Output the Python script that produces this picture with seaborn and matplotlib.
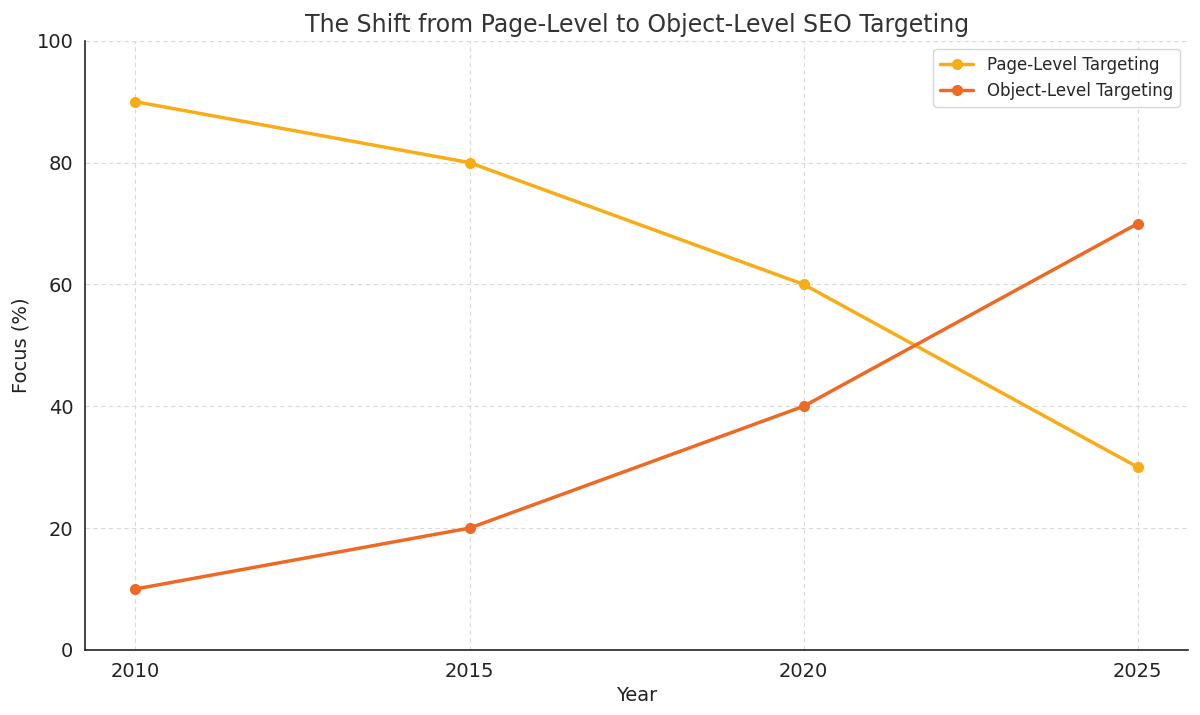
import matplotlib
matplotlib.use("Agg")
import matplotlib.pyplot as plt
import seaborn as sns
import pandas as pd

years = [2010, 2015, 2020, 2025]
page_level = [90, 80, 60, 30]
object_level = [10, 20, 40, 70]
series_names = ["Page-Level Targeting", "Object-Level Targeting"]
colors = ["#f8ac15", "#ee6a24"]

df = pd.DataFrame({
    "Year": years * 2,
    "Focus": page_level + object_level,
    "Series": [series_names[0]] * len(years) + [series_names[1]] * len(years),
})

sns.set_style("white")
plt.rcParams['font.family'] = ['DejaVu Sans']

fig, ax = plt.subplots(figsize=(12, 7.15), dpi=100)
sns.lineplot(data=df, x="Year", y="Focus", hue="Series", palette=colors,
             marker="o", markersize=8, markeredgewidth=0, linewidth=2.5, ax=ax)

ax.set_ylim(0, 100)
ax.set_xticks(years)
ax.set_xticklabels([str(y) for y in years])
ax.tick_params(axis="both", labelsize=14, length=5, width=1, colors="#222222", direction="out")
ax.grid(True, linestyle=(0, (4, 3)), color="#d9d9d9", linewidth=0.8)
sns.despine(ax=ax)
for s in ["left", "bottom"]:
    ax.spines[s].set_color("#222222")
    ax.spines[s].set_linewidth(1.2)

ax.set_title("The Shift from Page-Level to Object-Level SEO Targeting", fontsize=17, color="#333333")
ax.set_xlabel("Year", fontsize=14, color="#222222")
ax.set_ylabel("Focus (%)", fontsize=14, color="#222222")
leg = ax.legend(loc="upper right", fontsize=12, frameon=True)
leg.get_frame().set_edgecolor("#cccccc")

fig.subplots_adjust(left=0.071, right=0.99, top=0.943, bottom=0.091)
fig.savefig("out.png", dpi=100)
